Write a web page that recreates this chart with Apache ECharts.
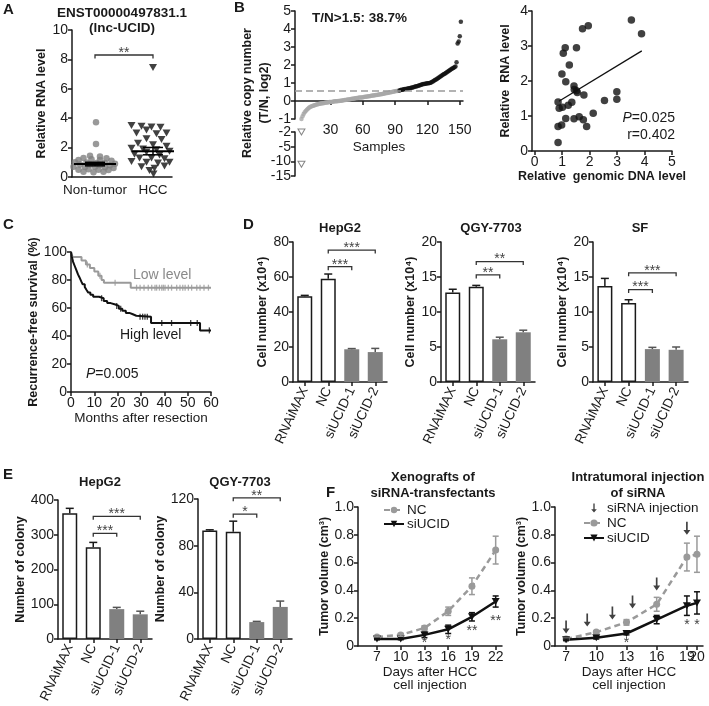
<!DOCTYPE html>
<html><head><meta charset="utf-8">
<script src="https://cdn.jsdelivr.net/npm/echarts@6/dist/echarts.min.js"></script>
<style>html,body{margin:0;padding:0;background:#fff}#c{width:709px;height:706px}</style>
</head><body><div id="c"></div>
<script>
// ================= DATA =================
// Panel A: [jitter offset, relative RNA level]
const aCategories = ['Non-tumor', 'HCC'];
const aCenters = [0.46, 1.62];
const aNonTumor = [[0.02,3.72],[0.02,2.25],[-0.10,1.45],[0.10,1.4],[-0.23,1.3],[0.23,1.28],[-0.33,1.15],[-0.07,1.2],[0.10,1.15],[0.33,1.1],[-0.40,1.0],[-0.17,0.98],[0.03,0.95],[0.20,0.95],[0.40,0.9],[-0.30,0.85],[-0.10,0.85],[0.10,0.82],[0.30,0.8],[-0.43,0.7],[-0.20,0.68],[0.0,0.7],[0.20,0.66],[0.37,0.62],[-0.33,0.5],[-0.13,0.52],[0.07,0.5],[0.27,0.48],[-0.23,0.35],[-0.03,0.33],[0.17,0.35]];
const aHCC = [[0,7.45],[-0.43,3.5],[-0.23,3.45],[-0.03,3.4],[0.15,3.38],[-0.13,3.2],[-0.33,3.0],[0.07,2.95],[0.27,3.0],[-0.13,2.6],[0.17,2.55],[-0.30,2.3],[0,2.2],[0.27,2.1],[-0.43,1.95],[-0.2,1.9],[0.07,1.85],[0.33,1.75],[-0.13,1.7],[-0.37,1.55],[0.13,1.5],[-0.27,1.3],[-0.03,1.3],[0.23,1.25],[-0.43,1.05],[-0.13,1.0],[0.10,0.95],[0.33,1.0],[-0.23,0.7],[0.03,0.6],[0.23,0.75],[-0.07,0.45],[0.01,0.2]];
const aMean = [0.88, 1.76];
const aSem = [0.12, 0.25];
const aBracketY = 8.3;

// Panel B left: sorted copy-number (log2 T/N), sample index starts at bCopyStart
const bThreshold = 0.585;
const bCopyStart = 3;
const bCopyNumber = [-1.0,-0.85,-0.72,-0.62,-0.55,-0.48,-0.43,-0.38,-0.34,-0.31,-0.28,-0.26,-0.24,-0.22,-0.2,-0.18,-0.17,-0.15,-0.14,-0.13,-0.12,-0.11,-0.1,-0.09,-0.08,-0.07,-0.06,-0.05,-0.05,-0.04,-0.03,-0.02,-0.02,-0.01,0.0,0.0,0.01,0.02,0.03,0.04,0.05,0.06,0.07,0.08,0.09,0.1,0.11,0.12,0.13,0.14,0.15,0.16,0.17,0.18,0.19,0.2,0.2,0.21,0.22,0.23,0.24,0.25,0.26,0.27,0.28,0.29,0.3,0.31,0.32,0.33,0.34,0.35,0.36,0.37,0.38,0.39,0.4,0.41,0.43,0.44,0.45,0.46,0.48,0.49,0.5,0.52,0.53,0.54,0.55,0.56,0.57,
0.59,0.61,0.62,0.63,0.65,0.66,0.67,0.68,0.7,0.71,0.72,0.74,0.75,0.77,0.79,0.8,0.82,0.84,0.86,0.88,0.9,0.92,0.94,0.95,0.96,0.97,0.98,0.99,1.0,1.02,1.05,1.08,1.12,1.16,1.2,1.24,1.28,1.32,1.36,1.4,1.44,1.48,1.52,1.56,1.6,1.64,1.68,1.72,1.76,1.8,1.83,1.87,1.92,2.15,3.2,3.3,3.6,4.4];
const bOutliers = [[3, -2], [3, -11]];
const bLowerTicks = [-15, -10, -5, -2];
const bUpperTicks = [30, 60, 90, 120, 150];

// Panel B right: [genomic DNA level, RNA level]
const bScatter = [[0.85,1.4],[0.85,0.7],[0.85,0.24],[0.98,0.74],[0.89,1.22],[1.01,1.25],[0.99,2.2],[1.04,2.79],[1.11,2.95],[1.13,1.98],[1.13,0.93],[1.22,1.31],[1.26,2.46],[1.35,1.39],[1.43,1.86],[1.44,1.76],[1.43,0.92],[1.52,1.72],[1.52,2.95],[1.55,1.67],[1.62,0.98],[1.77,0.89],[1.79,1.6],[1.74,3.49],[1.95,3.58],[1.89,0.7],[2.13,1.08],[2.54,1.44],[2.99,1.69],[2.99,1.48],[3.52,3.74],[3.89,3.35]];
const bFit = [[0.88,1.42],[3.9,2.86]];

// Panel C: Kaplan-Meier (time of step, survival after step)
const cLowTimes = [0,0.7,4.5,6.4,8.1,10,11.7,13.1,14.1,25.6,60];
const cLowSurv  = [100,96.4,94,91,88.6,86,83,80,78,74.5,74.5];
const cLowCensor = [7.0,12.4,18.9,28.1,29.6,31.3,33.1,34.6,36,36.7,37.9,38.9,39.6,40.3,41.7,43.1,45.3,46.7,47.9,48.9,50.3,51.7,53.9,55.3,57,58.9];
const cHighTimes = [0,0.3,0.9,1.6,2.3,3.0,3.6,4.4,5.0,5.9,6.6,7.4,8.3,9.5,12,14,15.5,17,19,20.5,22,23.5,25,26.5,28,34.3,55.3,60];
const cHighSurv  = [100,97,93,90,87,84,82,79,77,75,73,71,69.5,68,67,65,63.5,62.5,61.5,59.5,58,56.5,55.5,54.5,53.8,49.3,44,44];
const cHighCensor = [13.1,19.6,21.3,29.6,30.7,31.7,32.7,38.9,43.1,51.3,54.1,59.3];

// Panel D: cell number (x10^4)
const dCategories = ['RNAiMAX','NC','siUCID-1','siUCID-2'];
const dHepG2 = [49, 59, 18.7, 17.1];      const dHepG2Err = [0.5, 2.7, 0.4, 2.1];
const dQGY   = [12.8, 13.6, 6.1, 7.1];    const dQGYErr   = [0.45, 0.2, 0.3, 0.3];
const dSF    = [13.7, 11.3, 4.7, 4.6];    const dSFErr    = [1.1, 0.45, 0.25, 0.4];
const dHepG2Brackets = [[1,3,75.4,'***'],[1,2,65.9,'***']];
const dQGYBrackets   = [[1,3,17.2,'**'],[1,2,15.3,'**']];
const dSFBrackets    = [[1,3,15.6,'***'],[1,2,13.2,'***']];

// Panel E: number of colony
const eHepG2 = [362, 264, 86, 71];  const eHepG2Err = [14, 14, 5, 9];
const eQGY   = [93, 92, 14.5, 27.5]; const eQGYErr  = [0.6, 9, 0.6, 5];
const eHepG2Brackets = [[1,3,353,'***'],[1,2,304,'***']];
const eQGYBrackets   = [[1,3,121,'**'],[1,2,107,'*']];

// Panel F: tumor volume (cm^3)
const fLeftDays = [7,10,13,16,19,22];
const fLeftNC = [0.065,0.08,0.13,0.25,0.43,0.69];  const fLeftNCErr = [0.006,0.01,0.015,0.03,0.06,0.1];
const fLeftSi = [0.05,0.05,0.08,0.12,0.21,0.32];   const fLeftSiErr = [0.005,0.005,0.02,0.03,0.03,0.04];
const fLeftStars = [[13,0.02,'*'],[16,0.04,'*'],[19,0.11,'**'],[22,0.18,'**']];
const fRightDays = [7,10,13,16,19,20];
const fRightNC = [0.05,0.1,0.17,0.3,0.64,0.66];   const fRightNCErr = [0.006,0.01,0.02,0.05,0.1,0.13];
const fRightSi = [0.045,0.06,0.09,0.19,0.29,0.31]; const fRightSiErr = [0.005,0.01,0.01,0.03,0.07,0.08];
const fRightStars = [[13,0.02,'*'],[19,0.15,'*'],[20,0.15,'*']];
const fInjectionDays = [7,9.1,11.6,13.6,16,19];
const fInjectionTip  = [0.09,0.14,0.19,0.27,0.4,0.8];
const fLeftTicks = [7,10,13,16,19,22];
const fRightTicks = [7,10,13,16,19];
const fRightLastTick = [20];

// ================= HELPERS =================
const FONT = '"Liberation Sans", Arial, Helvetica, sans-serif';
const INK = '#1a1a1a';
const GREY = '#808080';
const LIGHT = '#9a9a9a';
const TRI_DOWN = 'path://M0,0L10,0L5,8.66Z';
const ARROW = 'path://M3.8,0H6.2V10H10L5,16L0,10H3.8Z';

function merge(a, b) {
  const o = Object.assign({}, a);
  for (const k in b) {
    if (b[k] && typeof b[k] === 'object' && !Array.isArray(b[k]) && a && a[k] && typeof a[k] === 'object' && !Array.isArray(a[k])) o[k] = merge(a[k], b[k]);
    else o[k] = b[k];
  }
  return o;
}
const AX = {
  axisLine: { show: true, onZero: false, lineStyle: { color: INK, width: 1.5 } },
  axisTick: { show: true, length: 4, lineStyle: { color: INK, width: 1.5 } },
  axisLabel: { color: INK, fontSize: 14, fontFamily: FONT, margin: 4, hideOverlap: false },
  splitLine: { show: false },
  nameTextStyle: { color: INK, fontFamily: FONT, fontSize: 13.5 }
};
const ax = o => merge(AX, o);
const YNAME = { fontWeight: 'bold', fontSize: 12.5, color: INK, fontFamily: FONT };
const grid = (l, t, w, h) => ({ left: l, top: t, width: w, height: h, containLabel: false, outerBoundsMode: 'none' });

function errSeries(idx, xs, means, errs, both, capW, colorFn) {
  return {
    type: 'custom', xAxisIndex: idx, yAxisIndex: idx, z: 6, silent: true,
    data: xs.map((x, i) => [x, means[i], errs[i]]),
    renderItem(params, api) {
      const x = api.value(0), m = api.value(1), e = api.value(2);
      const c = colorFn(params.dataIndex);
      const top = api.coord([x, m + e]);
      const bot = api.coord([x, both ? m - e : m]);
      const st = { stroke: c, lineWidth: 1.5 };
      const ch = [
        { type: 'line', shape: { x1: top[0], y1: top[1], x2: bot[0], y2: bot[1] }, style: st },
        { type: 'line', shape: { x1: top[0] - capW / 2, y1: top[1], x2: top[0] + capW / 2, y2: top[1] }, style: st }
      ];
      if (both) ch.push({ type: 'line', shape: { x1: bot[0] - capW / 2, y1: bot[1], x2: bot[0] + capW / 2, y2: bot[1] }, style: st });
      return { type: 'group', children: ch };
    }
  };
}
function bracketSeries(idx, items) {
  return {
    type: 'custom', xAxisIndex: idx, yAxisIndex: idx, z: 6, silent: true,
    data: items.map(b => [b[0], b[1], b[2]]),
    renderItem(params, api) {
      const a = api.coord([api.value(0), api.value(2)]);
      const b = api.coord([api.value(1), api.value(2)]);
      const t = items[params.dataIndex][3];
      return { type: 'group', children: [
        { type: 'polyline', shape: { points: [[a[0], a[1] + 3.5], [a[0], a[1]], [b[0], b[1]], [b[0], b[1] + 3.5]] }, style: { stroke: '#333', lineWidth: 1.3, fill: null } },
        { type: 'text', x: (a[0] + b[0]) / 2, y: a[1] - 2, style: { text: t, fill: '#444', font: '14px ' + FONT, textAlign: 'center', textVerticalAlign: 'middle', align: 'center', verticalAlign: 'middle' } }
      ] };
    }
  };
}
function textSeries(idx, items, color) {
  return {
    type: 'custom', xAxisIndex: idx, yAxisIndex: idx, z: 6, silent: true,
    data: items.map(t => [t[0], t[1]]),
    renderItem(params, api) {
      const p = api.coord([api.value(0), api.value(1)]);
      return { type: 'text', x: p[0], y: p[1], style: { text: items[params.dataIndex][2], fill: color, font: '14px ' + FONT, textAlign: 'center', textVerticalAlign: 'middle', align: 'center', verticalAlign: 'middle' } };
    }
  };
}
function meanSemSeries(idx, xs, means, sems) {
  return {
    type: 'custom', xAxisIndex: idx, yAxisIndex: idx, z: 6, silent: true,
    data: xs.map((x, i) => [x, means[i], sems[i]]),
    renderItem(params, api) {
      const x = api.value(0), m = api.value(1), s = api.value(2);
      const pm = api.coord([x, m]), pt = api.coord([x, m + s]), pb = api.coord([x, m - s]);
      const st = { stroke: '#000', lineWidth: 2 };
      return { type: 'group', children: [
        { type: 'line', shape: { x1: pm[0] - 21, y1: pm[1], x2: pm[0] + 21, y2: pm[1] }, style: st },
        { type: 'line', shape: { x1: pt[0], y1: pt[1], x2: pb[0], y2: pb[1] }, style: { stroke: '#000', lineWidth: 1.5 } },
        { type: 'line', shape: { x1: pt[0] - 10, y1: pt[1], x2: pt[0] + 10, y2: pt[1] }, style: { stroke: '#000', lineWidth: 1.5 } },
        { type: 'line', shape: { x1: pb[0] - 10, y1: pb[1], x2: pb[0] + 10, y2: pb[1] }, style: { stroke: '#000', lineWidth: 1.5 } }
      ] };
    }
  };
}
const barStyle = i => i < 2 ? { color: '#fff', borderColor: INK, borderWidth: 1.5 } : { color: GREY, borderWidth: 0 };
const barErrColor = i => i < 2 ? INK : '#555';
function survAt(times, surv, t) { let v = surv[0]; for (let i = 0; i < times.length; i++) if (times[i] <= t) v = surv[i]; return v; }
function bLowerT(v) { return v >= -5 ? 3 - (-2 - v) / 3 : 2 - (-5 - v) / 5; }

// ================= LAYOUT =================
const grids = [
  grid(72, 30, 100, 147),    // 0 A
  grid(295, 11, 168, 108),   // 1 B main
  grid(295, 132, 168, 44),   // 2 B lower
  grid(532, 11, 140, 140),   // 3 B scatter
  grid(71, 252, 140, 140),   // 4 C
  grid(293, 242, 94, 140),   // 5 D HepG2
  grid(441, 242, 94, 140),   // 6 D QGY
  grid(593, 242, 95, 140),   // 7 D SF
  grid(58, 500, 94, 139),    // 8 E HepG2
  grid(198, 499, 94, 140),   // 9 E QGY
  grid(358, 507, 144, 139),  // 10 F left
  grid(555, 507, 148, 139)   // 11 F right
];
const catX = (idx) => ax({ gridIndex: idx, type: 'category', data: dCategories,
  axisTick: { alignWithLabel: true }, axisLabel: { rotate: 65, fontSize: 13.5, interval: 0, margin: 6 } });
const yBar = (idx, max, step, gap, name) => ax({ gridIndex: idx, type: 'value', min: 0, max: max, interval: step,
  name: name, nameLocation: 'middle', nameGap: gap, nameTextStyle: YNAME });
const fY = (idx, gap) => ax({ gridIndex: idx, type: 'value', min: 0, max: 1, interval: 0.2,
  axisLabel: { formatter: v => v === 0 ? '0' : v.toFixed(1) },
  name: 'Tumor volume (cm³)', nameLocation: 'middle', nameGap: gap, nameTextStyle: YNAME });

const xAxes = [
  ax({ gridIndex: 0, type: 'value', min: 0, max: 2, axisTick: { show: false },
       axisLabel: { customValues: aCenters, formatter: v => aCategories[v < 1 ? 0 : 1], margin: 6, fontSize: 13.5 } }),
  ax({ gridIndex: 1, type: 'value', min: -3, max: 153, axisLine: { onZero: true },
       axisTick: { customValues: bUpperTicks }, axisLabel: { customValues: bUpperTicks },
       name: 'Samples', nameLocation: 'middle', nameGap: 21 }),
  ax({ gridIndex: 2, type: 'value', min: -3, max: 153, show: false }),
  ax({ gridIndex: 3, type: 'value', min: -0.1, max: 5,
       axisTick: { customValues: [0,1,2,3,4,5] }, axisLabel: { customValues: [0,1,2,3,4,5] },
       name: 'Relative  genomic DNA level', nameLocation: 'middle', nameGap: 18, nameTextStyle: YNAME }),
  ax({ gridIndex: 4, type: 'value', min: 0, max: 60, interval: 10,
       name: 'Months after resection', nameLocation: 'middle', nameGap: 19 }),
  catX(5), catX(6), catX(7), catX(8), catX(9),
  ax({ gridIndex: 10, type: 'value', min: 4.6, max: 22.8,
       axisTick: { customValues: fLeftTicks }, axisLabel: { customValues: fLeftTicks },
       name: 'Days after HCC\ncell injection', nameLocation: 'middle', nameGap: 20, nameTextStyle: { lineHeight: 13 } }),
  ax({ gridIndex: 11, type: 'value', min: 5.9, max: 20.6,
       axisTick: { customValues: fRightTicks }, axisLabel: { customValues: fRightTicks },
       name: 'Days after HCC\ncell injection', nameLocation: 'middle', nameGap: 20, nameTextStyle: { lineHeight: 13 } }),
  // second bottom axis on F right grid carrying only the closely spaced "20" tick
  ax({ gridIndex: 11, type: 'value', position: 'bottom', offset: 0, min: 5.9, max: 20.6,
       axisLine: { show: false },
       axisTick: { customValues: fRightLastTick }, axisLabel: { customValues: fRightLastTick, showMinLabel: true, showMaxLabel: true } })
];
const yAxes = [
  ax({ gridIndex: 0, type: 'value', min: 0, max: 10, interval: 2, name: 'Relative RNA level', nameLocation: 'middle', nameGap: 24, nameTextStyle: YNAME }),
  ax({ gridIndex: 1, type: 'value', min: -1, max: 5, interval: 1 }),
  ax({ gridIndex: 2, type: 'value', min: 0, max: 3, interval: 1, axisLabel: { formatter: v => String(bLowerTicks[Math.round(v)]) } }),
  ax({ gridIndex: 3, type: 'value', min: 0, max: 4, interval: 1, name: 'Relative  RNA level', nameLocation: 'middle', nameGap: 20, nameTextStyle: YNAME }),
  ax({ gridIndex: 4, type: 'value', min: 0, max: 100, interval: 20, name: 'Recurrence-free survival (%)', nameLocation: 'middle', nameGap: 31, nameTextStyle: YNAME }),
  yBar(5, 80, 20, 21, 'Cell number (x10⁴)'),
  yBar(6, 20, 5, 15, 'Cell number (x10⁴)'),
  yBar(7, 20, 5, 24, 'Cell number (x10⁴)'),
  yBar(8, 400, 100, 31, 'Number of colony'),
  yBar(9, 120, 40, 26, 'Number of colony'),
  fY(10, 23), fY(11, 22)
];

// ================= SERIES =================
const series = [];
// A
series.push({ type: 'scatter', xAxisIndex: 0, yAxisIndex: 0, symbol: 'circle', symbolSize: 6.5,
  itemStyle: { color: GREY }, data: aNonTumor.map(p => [aCenters[0] + p[0], p[1]]) });
series.push({ type: 'scatter', xAxisIndex: 0, yAxisIndex: 0, symbol: TRI_DOWN, symbolSize: [8, 7],
  itemStyle: { color: '#111' }, data: aHCC.map(p => [aCenters[1] + p[0], p[1]]) });
series.push(meanSemSeries(0, aCenters, aMean, aSem));
series.push(bracketSeries(0, [[aCenters[0], aCenters[1], aBracketY, '**']]));

// B main
const bGreyPts = [], bBlackPts = [];
bCopyNumber.forEach((v, i) => (v <= bThreshold ? bGreyPts : bBlackPts).push([bCopyStart + i, v]));
series.push({ type: 'scatter', xAxisIndex: 1, yAxisIndex: 1, symbolSize: 4.5, clip: false,
  itemStyle: { color: '#a8a8a8' }, data: bGreyPts,
  markLine: { silent: true, symbol: 'none', label: { show: false }, lineStyle: { type: [7, 4], color: '#9a9a9a', width: 1.5 }, data: [{ yAxis: bThreshold }] } });
series.push({ type: 'scatter', xAxisIndex: 1, yAxisIndex: 1, symbolSize: 4.5, clip: false,
  itemStyle: { color: '#111' }, data: bBlackPts });
series.push({ type: 'scatter', xAxisIndex: 2, yAxisIndex: 2, symbol: TRI_DOWN, symbolSize: [7, 6], clip: false,
  itemStyle: { color: '#fff', borderColor: '#666', borderWidth: 1 }, data: bOutliers.map(p => [p[0], bLowerT(p[1])]) });
// B scatter
series.push({ type: 'scatter', xAxisIndex: 3, yAxisIndex: 3, symbolSize: 7.5, itemStyle: { color: '#111' }, data: bScatter });
series.push({ type: 'line', xAxisIndex: 3, yAxisIndex: 3, symbol: 'none', lineStyle: { color: '#111', width: 1.3 }, data: bFit });

// C
series.push({ type: 'line', xAxisIndex: 4, yAxisIndex: 4, step: 'end', symbol: 'none',
  lineStyle: { color: LIGHT, width: 2 }, data: cLowTimes.map((t, i) => [t, cLowSurv[i]]) });
series.push({ type: 'line', xAxisIndex: 4, yAxisIndex: 4, step: 'end', symbol: 'none',
  lineStyle: { color: '#111', width: 2 }, data: cHighTimes.map((t, i) => [t, cHighSurv[i]]) });
series.push({ type: 'scatter', xAxisIndex: 4, yAxisIndex: 4, symbol: 'rect', symbolSize: [1.3, 6],
  itemStyle: { color: LIGHT }, data: cLowCensor.map(t => [t, survAt(cLowTimes, cLowSurv, t)]) });
series.push({ type: 'scatter', xAxisIndex: 4, yAxisIndex: 4, symbol: 'rect', symbolSize: [1.3, 6],
  itemStyle: { color: '#111' }, data: cHighCensor.map(t => [t, survAt(cHighTimes, cHighSurv, t)]) });

// D & E bars
function barPanel(idx, vals, errs, brackets) {
  series.push({ type: 'bar', xAxisIndex: idx, yAxisIndex: idx, barWidth: 15,
    data: vals.map((v, i) => ({ value: v, itemStyle: barStyle(i) })) });
  series.push(errSeries(idx, vals.map((v, i) => i), vals, errs, false, 8, barErrColor));
  series.push(bracketSeries(idx, brackets));
}
barPanel(5, dHepG2, dHepG2Err, dHepG2Brackets);
barPanel(6, dQGY, dQGYErr, dQGYBrackets);
barPanel(7, dSF, dSFErr, dSFBrackets);
barPanel(8, eHepG2, eHepG2Err, eHepG2Brackets);
barPanel(9, eQGY, eQGYErr, eQGYBrackets);

// F
function fPanel(idx, days, nc, ncErr, si, siErr, stars) {
  series.push({ type: 'line', name: 'NC', xAxisIndex: idx, yAxisIndex: idx, symbol: 'circle', symbolSize: 7,
    itemStyle: { color: LIGHT }, lineStyle: { color: LIGHT, width: 2.5, type: [6, 4] }, data: days.map((d, i) => [d, nc[i]]) });
  series.push({ type: 'line', name: 'siUCID', xAxisIndex: idx, yAxisIndex: idx, symbol: TRI_DOWN, symbolSize: [8, 7],
    itemStyle: { color: '#111' }, lineStyle: { color: '#111', width: 2.5 }, data: days.map((d, i) => [d, si[i]]) });
  series.push(errSeries(idx, days, nc, ncErr, true, 6, () => LIGHT));
  series.push(errSeries(idx, days, si, siErr, true, 6, () => '#111'));
  series.push(textSeries(idx, stars, '#444'));
}
fPanel(10, fLeftDays, fLeftNC, fLeftNCErr, fLeftSi, fLeftSiErr, fLeftStars);
fPanel(11, fRightDays, fRightNC, fRightNCErr, fRightSi, fRightSiErr, fRightStars);
series.push({ type: 'scatter', name: 'siRNA injection', xAxisIndex: 11, yAxisIndex: 11, symbol: ARROW, symbolSize: [7, 13],
  symbolOffset: [0, '-50%'], itemStyle: { color: '#111' }, data: fInjectionDays.map((d, i) => [d, fInjectionTip[i]]) });

// ================= TEXT =================
function T(x, y, text, o) {
  o = o || {};
  return { type: 'text', x: x, y: y, rotation: o.rot || 0, silent: true, z: 10,
    style: Object.assign({ text: text, fill: o.color || INK, font: (o.style || '') + ' ' + (o.weight || 'normal') + ' ' + (o.size || 13.5) + 'px ' + FONT,
      textAlign: o.align || 'center', textVerticalAlign: 'middle', lineHeight: o.lh || 16 }, o.extra || {}) };
}
const B = { weight: 'bold', size: 13 };
const L = { weight: 'bold', size: 15, align: 'left' };
const italP = (x, y, rest, align) => ({ type: 'text', x: x, y: y, silent: true, z: 10,
  style: { text: '{i|P}{n|' + rest + '}', textAlign: align, textVerticalAlign: 'middle',
    rich: { i: { fontStyle: 'italic', fontSize: 14, fontFamily: FONT, fill: INK }, n: { fontSize: 14, fontFamily: FONT, fill: INK } } } });
const graphics = [
  T(3, 10, 'A', L), T(234, 8, 'B', L), T(3, 225, 'C', L), T(243, 225, 'D', L), T(3, 475, 'E', L), T(326, 493, 'F', L),
  T(122, 13, 'ENST00000497831.1', { weight: 'bold', size: 13.5 }),
  T(122, 28, '(lnc-UCID)', { weight: 'bold', size: 13.5 }),
  T(312, 18, 'T/N>1.5: 38.7%', { weight: 'bold', size: 13.5, align: 'left' }),
  T(256, 93, 'Relative copy number\n(T/N, log2)', { weight: 'bold', size: 12.5, rot: Math.PI / 2, lh: 17 }),
  italP(675, 118, '=0.025', 'right'),
  T(675, 135, 'r=0.402', { size: 14, align: 'right' }),
  T(133, 275, 'Low level', { size: 14, align: 'left', color: '#8a8a8a' }),
  T(120, 335, 'High level', { size: 14, align: 'left' }),
  italP(86, 374, '=0.005', 'left'),
  T(340, 228, 'HepG2', B), T(491, 228, 'QGY-7703', B), T(640, 228, 'SF', B),
  T(100, 482, 'HepG2', B), T(240, 482, 'QGY-7703', B),
  T(433, 477, 'Xenografts of', B), T(433, 493, 'siRNA-transfectants', B),
  T(638, 477, 'Intratumoral injection', B), T(638, 493, 'of siRNA', B)
];

const chart = echarts.init(document.getElementById('c'), null, { renderer: 'canvas' });
chart.setOption({
  animation: false,
  backgroundColor: '#fff',
  textStyle: { fontFamily: FONT },
  grid: grids, xAxis: xAxes, yAxis: yAxes, series: series,
  legend: [
    { left: 383, top: 503, padding: 0, orient: 'vertical', data: ['NC', 'siUCID'], itemWidth: 20, itemHeight: 8, itemGap: 0,
      selectedMode: false, textStyle: { fontSize: 13.5, fontFamily: FONT, color: INK, lineHeight: 14, padding: [0, 0, 0, -2] } },
    { left: 583, top: 501, padding: 0, orient: 'vertical', data: ['siRNA injection', 'NC', 'siUCID'], itemWidth: 20, itemHeight: 9, itemGap: 1,
      selectedMode: false, textStyle: { fontSize: 13.5, fontFamily: FONT, color: INK, lineHeight: 14, padding: [0, 0, 0, -2] } }
  ],
  graphic: graphics
});
</script></body></html>
